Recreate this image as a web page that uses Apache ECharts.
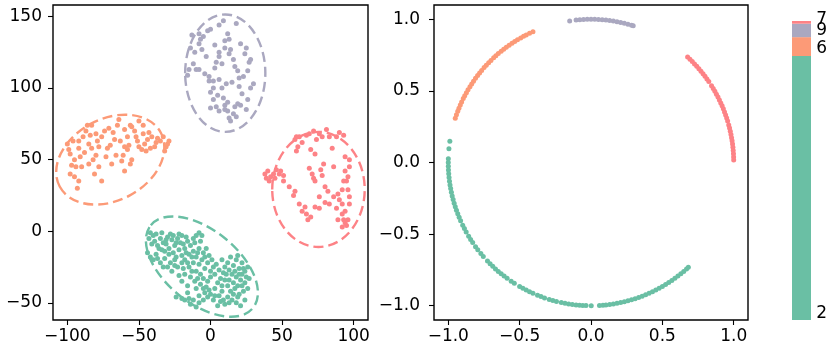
<!DOCTYPE html>
<html>
<head>
<meta charset="utf-8">
<script src="https://cdn.jsdelivr.net/npm/echarts@6/dist/echarts.min.js"></script>
<style>
html, body { margin: 0; padding: 0; background: #fff; }
#chart { width: 830px; height: 352px; }
</style>
</head>
<body>
<div id="chart"></div>
<script>
// class labels and colours (green, orange, purple, red)
var classNames = ['2', '6', '9', '7'];
var classColors = ['#6abfa4', '#fc9a77', '#aaa8c0', '#fd8286'];

// left panel: embedded points per class
var greenPts = [
  [-42,-1],[-40,-3],[-38,-2],[-35,-5],[-33,-8],[-30,-4],[-28,-2],[-27,-6],[-25,-10],[-23,-5],
  [-21,-8],[-20,-3],[-18,-12],[-16,-7],[-14,-10],[-12,-5],[-10,-3],[-8,-1],[-6,-3],[-36,-12],
  [-32,-14],[-29,-12],[-26,-15],[-24,-18],[-22,-13],[-20,-17],[-18,-20],[-15,-16],[-12,-14],[-10,-18],
  [-8,-12],[-5,-15],[-44,-15],[-42,-18],[-40,-20],[-38,-16],[-35,-22],[-32,-19],[-30,-25],[-28,-22],
  [-25,-20],[-27,-28],[-23,-25],[-20,-22],[-15,-25],[-12,-22],[-10,-28],[-8,-23],[-6,-20],[-4,-26],
  [-2,-22],[0,-28],[2,-25],[-14,-32],[-11,-35],[-7,-30],[-5,-33],[-2,-35],[0,-32],[3,-30],
  [5,-36],[-18,-30],[-20,-35],[-16,-38],[-10,-40],[-5,-40],[8,-20],[10,-25],[12,-22],[14,-18],
  [16,-24],[18,-20],[20,-26],[22,-22],[24,-28],[26,-25],[15,-30],[18,-32],[21,-34],[24,-36],
  [10,-34],[12,-38],[8,-42],[14,-42],[17,-40],[20,-44],[23,-42],[26,-40],[6,-45],[9,-48],
  [12,-46],[15,-48],[18,-50],[21,-52],[24,-48],[2,-48],[-2,-46],[-5,-48],[-8,-50],[-12,-48],
  [-15,-47],[-18,-48],[-10,-53],[-14,-51],[5,-52],[0,-44],[3,-40],[19,-38],[16,-36],[22,-30],
  [11,-30],[7,-33],[-3,-39],[-20,-47],[-8,-45],[-34,-1],[-31,-9],[-17,-4],[13,-27],[19,-17],
  [-43,-5],[-41,-9],[-39,-7],[-37,-10],[-34,-13],[-31,-6],[-29,-16],[-26,-3],[-24,-8],[-22,-2],
  [-19,-9],[-17,-15],[-13,-18],[-11,-8],[-9,-15],[-7,-7],[-4,-18],[-3,-12],[-1,-17],[1,-20],
  [4,-23],[6,-27],[9,-29],[13,-34],[17,-28],[20,-30],[23,-26],[25,-32],[22,-38],[19,-46],
  [16,-44],[13,-50],[10,-51],[7,-49],[3,-45],[-1,-41],[-4,-43],[-7,-37],[-9,-33],[-13,-28],
  [-16,-22],[-19,-26],[-22,-31],[-25,-24],[-33,-25],[-37,-19],[-24,-46],[-16,-43],[8,-38],[27,-33]
];
var orangePts = [
  [-100,61],[-98,54],[-95,50],[-92,58],[-91,52],[-86,74],[-87,70],[-84,67],[-83,58],[-78,59],
  [-80,53],[-76,66],[-71,72],[-67,64],[-65,74],[-60,71],[-64,78],[-56,74],[-55,73],[-50,77],
  [-47,74],[-52,66],[-57,60],[-60,59],[-66,53],[-69,47],[-62,49],[-56,47],[-55,50],[-50,59],
  [-46,61],[-44,64],[-41,66],[-37,65],[-35,63],[-31,59],[-29,63],[-32,56],[-42,58],[-45,56],
  [-60,42],[-76,35],[-81,40],[-92,35],[-93,30],[-98,40],[-95,38],[-90,45],[-85,47],[-78,45],
  [-73,52],[-92,63],[-80,68],[-47,68],[-39,59],[-83,74],[-97,46],[-88,55],[-70,60],[-58,66],
  [-99,57],[-96,63],[-94,45],[-89,66],[-85,61],[-82,50],[-79,63],[-74,70],[-72,58],[-68,69],
  [-63,63],[-61,53],[-58,57],[-53,70],[-51,63],[-48,57],[-43,69],[-38,62],[-33,66],[-30,61]
];
var purplePts = [
  [-13,137],[-8,138],[-7,134],[-2,140],[0,141],[6,144],[9,147],[12,138],[13,134],[10,133],
  [25,128],[24,124],[28,120],[13,124],[6,125],[4,118],[3,114],[16,120],[-6,127],[-8,131],
  [-10,113],[-16,109],[-4,110],[-1,105],[2,100],[6,106],[11,103],[19,112],[26,112],[30,103],
  [20,101],[9,93],[4,87],[10,85],[13,79],[17,87],[19,89],[26,92],[25,85],[16,82],
  [12,84],[14,77],[2,105],[-1,108],[2,92],[6,84],[20,107],[17,115],[6,122],[-8,113],
  [-14,128],[-3,122],[22,96],[28,100],[5,95],[10,128],[-12,117],[18,145],[0,86],[10,88],
  [-15,113],[-11,125],[-5,136],[3,130],[8,117],[14,127],[21,131],[27,118],[23,108],[15,104],
  [8,100],[0,97],[21,88],[12,90],[18,80]
];
var redPts = [
  [38,40],[40,42],[44,40],[46,43],[48,40],[51,39],[41,35],[42,38],[51,35],[59,64],
  [61,59],[62,66],[67,67],[72,70],[74,64],[76,68],[81,71],[83,66],[88,66],[93,67],
  [70,57],[73,54],[60,56],[69,44],[79,47],[72,37],[73,35],[78,39],[94,52],[97,50],
  [96,38],[95,35],[93,35],[86,45],[80,31],[76,24],[82,28],[89,26],[92,29],[97,24],
  [97,19],[92,19],[88,16],[92,12],[93,8],[95,4],[96,8],[92,3],[83,19],[76,16],
  [73,17],[67,12],[68,8],[62,19],[58,25],[66,17],[55,31],[96,29],[64,62],[85,58],
  [39,37],[45,37],[49,42],[60,66],[69,68],[78,66],[90,69],[97,45],[94,42],[77,43],
  [71,40],[86,24],[90,22],[94,14],[89,8],[94,6],[80,20],[64,14],[70,10],[59,28]
];
var leftPts = [greenPts, orangePts, purplePts, redPts];

// left panel: dashed ellipse per class [cx, cy, semi axis x, semi axis y, angle deg]
var ellipseGreen = [-6, -24.7, 45.9, 25.5, -39];
var ellipseOrange = [-70, 50, 40, 28.5, 28];
var ellipsePurple = [10.3, 110.4, 28, 41, 0];
var ellipseRed = [75.4, 29.2, 32.3, 40.2, 0];
var ellipses = [ellipseGreen, ellipseOrange, ellipsePurple, ellipseRed];

// right panel: angles (degrees) of points on the unit circle
var greenAng = [171.5,174.5,178.5,180,181.5,183,184.5,186,187.5,189,190.5,192,193.5,195,196.5,198,199.5,201,
  202.5,204,206,207.5,209,211,212.5,214,216,217.5,219.5,221,223.5,225,226.5,228,229.5,231,232.5,234,236,
  237.5,240,241.5,243,244.5,246,248,249.5,251,253,254.5,256,258,259.5,261,262.5,264,265.4,266.7,268,270.1,
  273.4,274.8,276,277.5,279,280.5,282,283.5,285,286.5,288,289.5,291,292.5,294,295.5,297,298.5,300,301.5,
  303,304.5,306,307.5,309,310.5,312,313];
var orangeAng = [114,115.5,117,118.2,119.5,121,122.3,123.6,125,126.4,127.7,129,130.5,131.8,133,134.5,135.8,
  137.2,138.5,140,141.3,142.6,144,145.4,146.7,148,149.5,150.8,152.2,153.5,155,156.3,157.7,159,160.5,162];
var purpleAng = [98.6,96,94.5,93,91.5,90,88.5,87,85.5,84,82.5,81,79.5,78,76.5,75,73.5,72.8];
var redAng = [47.4,46.1,44.8,43.5,42.2,40.9,39.6,38.3,37,35.7,34.4,32.4,31.1,29.8,28.5,27.2,25.9,24.6,23.3,
  22,20.7,19.4,18.1,16.8,15.2,13.9,12.6,11.3,10,8.7,7.4,6.1,4.8,3.5,2.2,1];
var rightAng = [greenAng, orangeAng, purpleAng, redAng];

// right bar: share of each class
var barShare = [0.883, 0.063, 0.045, 0.009];

var leftTicks = [-100, -50, 0, 50, 100];
var leftYTicks = [-50, 0, 50, 100, 150];
var rightTicks = [-1, -0.5, 0, 0.5, 1];

var font = 'DejaVu Sans';
var minus = function (s) { return s.replace('-', '\u2212'); };

function valAxis(idx, min, max, ticks, fmt, margin) {
  return {
    type: 'value', gridIndex: idx, min: min, max: max,
    axisLine: { show: false, onZero: false },
    splitLine: { show: false },
    axisTick: { show: true, inside: false, length: 5, customValues: ticks,
      lineStyle: { color: '#000', width: 1.1 } },
    axisLabel: { customValues: ticks, color: '#000', fontSize: 17, fontFamily: font,
      margin: margin, formatter: fmt }
  };
}
var fmtInt = function (v) { return minus(String(v)); };
var fmtDec = function (v) { return minus(v.toFixed(1)); };

var series = [];
leftPts.forEach(function (pts, i) {
  series.push({
    type: 'scatter', xAxisIndex: 0, yAxisIndex: 0, data: pts,
    symbolSize: 5, itemStyle: { color: classColors[i], opacity: 1 }, silent: true
  });
});
series.push({
  type: 'custom', xAxisIndex: 0, yAxisIndex: 0, silent: true, z: 3,
  data: ellipses,
  encode: { x: 0, y: 1 },
  renderItem: function (params, api) {
    var c = api.coord([api.value(0), api.value(1)]);
    var rx = api.size([api.value(2), 0])[0];
    var ry = api.size([0, api.value(3)])[1];
    return {
      type: 'ellipse', x: c[0], y: c[1], rotation: api.value(4) * Math.PI / 180,
      shape: { cx: 0, cy: 0, rx: rx, ry: ry },
      style: { fill: null, stroke: classColors[params.dataIndex], lineWidth: 2.4, lineDash: [10, 5] }
    };
  }
});
rightAng.forEach(function (angs, i) {
  series.push({
    type: 'scatter', xAxisIndex: 1, yAxisIndex: 1, silent: true,
    data: angs.map(function (a) {
      var r = a * Math.PI / 180;
      return [Math.cos(r), Math.sin(r)];
    }),
    symbolSize: 5, itemStyle: { color: classColors[i], opacity: 1 }
  });
});
var labelShift = [[0, 2], [0, 1], [0, 2], [0, 4]];
barShare.forEach(function (v, i) {
  series.push({
    type: 'bar', xAxisIndex: 2, yAxisIndex: 2, stack: 'share', barWidth: '100%', silent: true,
    data: [v], itemStyle: { color: classColors[i] },
    label: { show: true, formatter: classNames[i], position: ['128%', '100%'],
      offset: labelShift[i], align: 'left', verticalAlign: 'bottom',
      color: '#000', fontSize: 17, fontFamily: font, lineHeight: 17 }
  });
});

var chart = echarts.init(document.getElementById('chart'), null, { renderer: 'canvas' });
chart.setOption({
  animation: false,
  backgroundColor: '#fff',
  textStyle: { fontFamily: font },
  grid: [
    { left: 53, top: 5, width: 315, height: 315, show: true, borderColor: '#000', borderWidth: 1.4, outerBoundsMode: 'none' },
    { left: 434, top: 5, width: 314, height: 315, show: true, borderColor: '#000', borderWidth: 1.4, outerBoundsMode: 'none' },
    { left: 792, top: 21, width: 19, height: 299, outerBoundsMode: 'none' }
  ],
  xAxis: [
    valAxis(0, -110, 110, leftTicks, fmtInt, 8),
    valAxis(1, -1.1, 1.1, rightTicks, fmtDec, 8),
    { type: 'category', gridIndex: 2, data: [''], show: false }
  ],
  yAxis: [
    valAxis(0, -62, 158, leftYTicks, fmtInt, 11),
    valAxis(1, -1.1, 1.1, rightTicks, fmtDec, 14),
    { type: 'value', gridIndex: 2, min: 0, max: 1, show: false }
  ],
  series: series
});
</script>
</body>
</html>
